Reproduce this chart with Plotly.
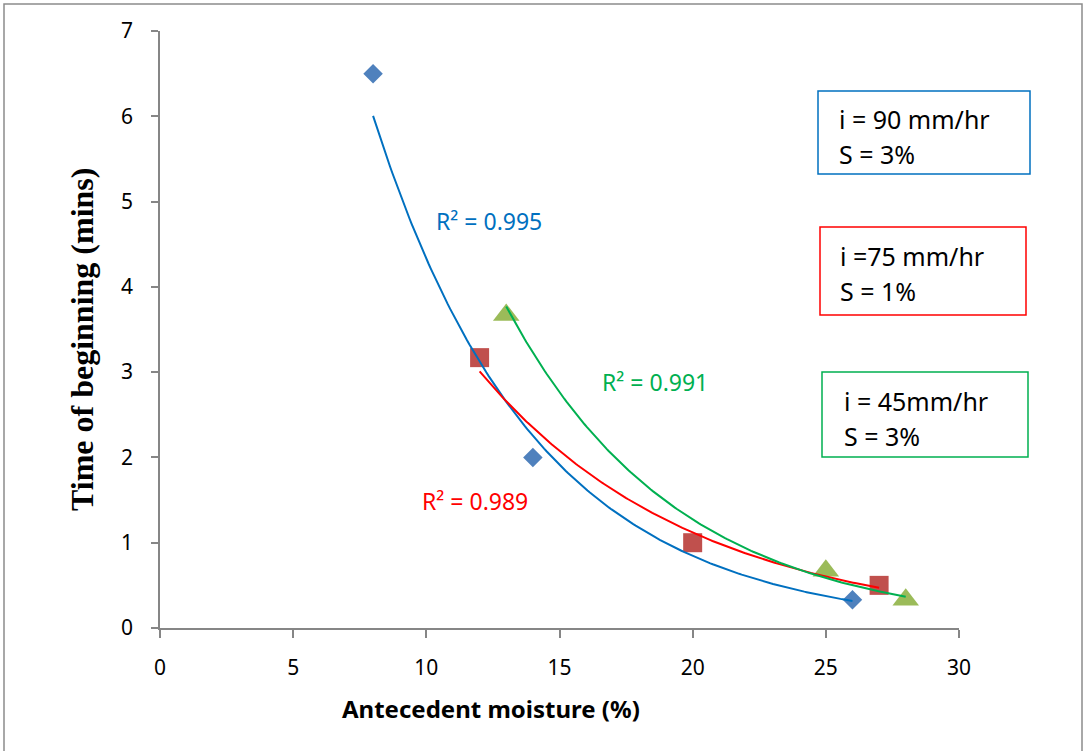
import numpy as np
import plotly.graph_objects as go

# ---- data ----
blue_x = [8, 14, 26]
blue_y = [6.5, 2.0, 0.33]
red_x = [12, 20, 27]
red_y = [3.17, 1.0, 0.5]
green_x = [13, 25, 28]
green_y = [3.67, 0.67, 0.33]

r2_labels = ["R² = 0.995", "R² = 0.989", "R² = 0.991"]
box_labels = [["i = 90 mm/hr", "S = 3%"], ["i =75 mm/hr", "S = 1%"], ["i = 45mm/hr", "S = 3%"]]
x_ticks = [0, 5, 10, 15, 20, 25, 30]
y_ticks = [0, 1, 2, 3, 4, 5, 6, 7]
x_title = "Antecedent moisture (%)"
y_title = "Time of beginning (mins)"

W, H = 1085, 751
L, R, T, B = 160, 126, 31, 123
PW, PH = W - L - R, H - T - B


def px(xp):
    return (xp - L) / PW


def py(yp):
    return (H - B - yp) / PH


def exp_fit(x, y):
    b, lna = np.polyfit(np.array(x, float), np.log(np.array(y, float)), 1)
    xs = np.linspace(min(x), max(x), 200)
    return xs, np.exp(lna) * np.exp(b * xs)


series = [
    (blue_x, blue_y, "#4F81BD", "diamond", 15, "#0070C0"),
    (red_x, red_y, "#C0504D", "square", 19, "#FF0000"),
    (green_x, green_y, "#9BBB59", "triangle-up", 23, "#00B050"),
]

fig = go.Figure()
for x, y, mc, sym, sz, lc in series:
    fig.add_trace(go.Scatter(x=x, y=y, mode="markers",
                             marker=dict(symbol=sym, size=sz, color=mc, line=dict(width=0)),
                             showlegend=False, cliponaxis=False))
for x, y, mc, sym, sz, lc in series:
    xs, ys = exp_fit(x, y)
    fig.add_trace(go.Scatter(x=xs, y=ys, mode="lines", line=dict(color=lc, width=2),
                             showlegend=False, hoverinfo="skip"))

# R² labels (data coordinates)
r2_pos = [(12.35, 4.77, "#0070C0"), (11.83, 1.49, "#FF0000"), (18.59, 2.88, "#00B050")]
for (ax_, ay_, c), t in zip(r2_pos, r2_labels):
    fig.add_annotation(x=ax_, y=ay_, text=t, showarrow=False, xref="x", yref="y",
                       font=dict(family="Noto Sans", size=23, color=c))

# boxes
boxes = [((818, 91, 1030, 174), "#0070C0", 837, (119, 154)),
         ((820, 227, 1026, 315), "#FF0000", 838, (256, 291)),
         ((822, 372, 1028, 457), "#00B050", 842, (401, 436))]
shapes = []
for (x0, y0, x1, y1), c, tx, tys in boxes:
    shapes.append(dict(type="rect", xref="paper", yref="paper", x0=px(x0), x1=px(x1),
                       y0=py(y1), y1=py(y0), line=dict(color=c, width=1.5),
                       fillcolor="white", layer="above"))
for ((x0, y0, x1, y1), c, tx, tys), lines in zip(boxes, box_labels):
    for ty, t in zip(tys, lines):
        fig.add_annotation(x=px(tx), y=py(ty), xref="paper", yref="paper", text=t,
                           showarrow=False, xanchor="left", yanchor="middle",
                           font=dict(family="Noto Sans", size=25, color="black"))

# axis titles
fig.add_annotation(x=px(491), y=py(708), xref="paper", yref="paper",
                   text="<b>" + x_title + "</b>", showarrow=False,
                   xanchor="center", yanchor="middle",
                   font=dict(family="Noto Sans", size=24, color="black"))
fig.add_annotation(x=px(82), y=py(340), xref="paper", yref="paper",
                   text="<b>" + y_title + "</b>", showarrow=False, textangle=-90,
                   xanchor="center", yanchor="middle",
                   font=dict(family="Liberation Serif", size=32, color="black"))

# outer border
shapes.append(dict(type="rect", xref="paper", yref="paper", x0=px(4), x1=px(1082),
                   y0=py(770), y1=py(4), line=dict(color="#8C8C8C", width=1.5), layer="below"))

fig.update_layout(
    width=W, height=H,
    margin=dict(l=L, r=R, t=T, b=B),
    paper_bgcolor="white", plot_bgcolor="white",
    shapes=shapes,
    xaxis=dict(range=[0, 30], tickvals=x_ticks, ticktext=[str(v) for v in x_ticks],
               showgrid=False, zeroline=False, showline=True, linecolor="#868686", linewidth=1.5,
               ticks="outside", ticklen=8, tickcolor="#868686", tickwidth=1.5,
               ticklabelstandoff=12,
               tickfont=dict(family="Noto Sans", size=21, color="black")),
    yaxis=dict(range=[0, 7], tickvals=y_ticks, ticktext=[str(v) for v in y_ticks],
               showgrid=False, zeroline=False, showline=True, linecolor="#868686", linewidth=1.5,
               ticks="outside", ticklen=7, tickcolor="#868686", tickwidth=1.5,
               ticklabelstandoff=14,
               tickfont=dict(family="Noto Sans", size=21, color="black")),
)

fig.write_html("out.html")
